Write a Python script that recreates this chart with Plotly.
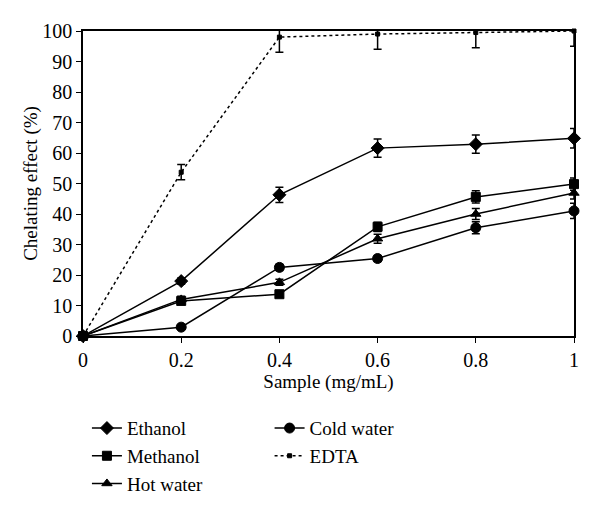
import plotly.graph_objects as go

x_vals = [0, 0.2, 0.4, 0.6, 0.8, 1.0]

ethanol = [0, 18, 46.3, 61.6, 62.9, 64.8]
ethanol_err = [0, 1, 2.5, 3, 3, 3.2]
methanol = [0, 11.5, 13.7, 35.8, 45.6, 49.8]
methanol_err = [0, 1, 1, 1.5, 2, 2]
hot_water = [0, 12, 17.6, 31.9, 40, 46.9]
hot_water_err = [0, 1, 1, 1.5, 1.8, 2]
cold_water = [0, 2.9, 22.5, 25.4, 35.5, 41]
cold_water_err = [0, 0.5, 1, 1, 2, 2.5]
edta = [0, 53.7, 98, 99, 99.5, 100]
edta_err = [0, 2.5, 5, 5, 5, 5]

FONT = "'Liberation Serif', 'Times New Roman', serif"

fig = go.Figure()


def add_series(name, y, err, symbol, size, legend, dash="solid"):
    fig.add_trace(
        go.Scatter(
            x=x_vals,
            y=y,
            name=name,
            mode="lines+markers",
            line=dict(color="black", width=1.5, dash=dash),
            marker=dict(symbol=symbol, size=size, color="black",
                        line=dict(color="black", width=1)),
            error_y=dict(type="data", array=err, color="black",
                         thickness=1.5, width=4),
            cliponaxis=False,
            legend=legend,
        )
    )


add_series("Ethanol", ethanol, ethanol_err, "diamond", 10, "legend")
add_series("Methanol", methanol, methanol_err, "square", 9, "legend")
add_series("Hot water", hot_water, hot_water_err, "triangle-up", 9, "legend")
add_series("Cold water", cold_water, cold_water_err, "circle", 10, "legend2")
add_series("EDTA", edta, edta_err, "square", 4, "legend2", dash="dot")

fig.update_layout(
    width=600,
    height=515,
    margin=dict(l=75, r=34, t=21, b=187),
    paper_bgcolor="white",
    plot_bgcolor="white",
    font=dict(family=FONT, size=19, color="black"),
    xaxis=dict(
        range=[0, 1],
        tickvals=x_vals,
        ticktext=["0", "0.2", "0.4", "0.6", "0.8", "1"],
        showline=True,
        linecolor="black",
        linewidth=1.5,
        mirror=True,
        ticks="outside",
        ticklen=5,
        tickcolor="black",
        tickfont=dict(size=20),
        showgrid=False,
        zeroline=False,
        title=dict(text="Sample (mg/mL)", standoff=5, font=dict(size=19)),
    ),
    yaxis=dict(
        range=[0, 100],
        dtick=10,
        showline=True,
        linecolor="black",
        linewidth=1.5,
        mirror=True,
        ticks="outside",
        ticklen=5,
        tickcolor="black",
        tickfont=dict(size=20),
        showgrid=False,
        zeroline=False,
        title=dict(text="Chelating effect (%)", standoff=0, font=dict(size=19)),
    ),
    legend=dict(
        x=0.008, xanchor="left", y=-0.24, yanchor="top",
        font=dict(size=19), tracegroupgap=0,
        bgcolor="rgba(0,0,0,0)",
    ),
    legend2=dict(
        x=0.38, xanchor="left", y=-0.24, yanchor="top",
        font=dict(size=19), tracegroupgap=0,
        bgcolor="rgba(0,0,0,0)",
    ),
)

fig.write_html("out.html")
